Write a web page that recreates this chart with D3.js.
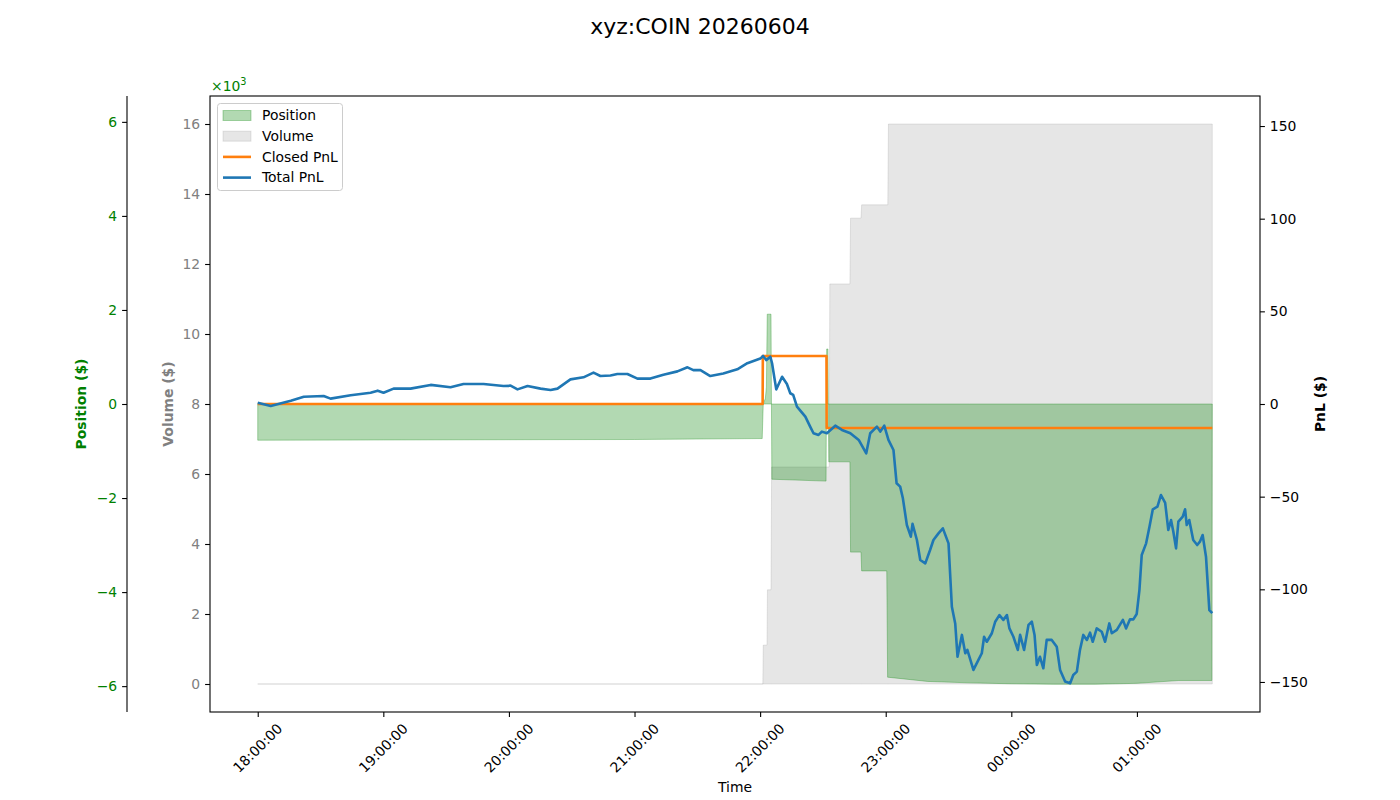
<!DOCTYPE html>
<html>
<head>
<meta charset="utf-8">
<script src="https://cdn.jsdelivr.net/npm/d3@7"></script>
<style>
html,body{margin:0;padding:0;background:#fff;}
svg{display:block;font-family:"DejaVu Sans",sans-serif;}
</style>
</head>
<body>
<svg id="chart" width="1400" height="800"></svg>
<script>
// ---------------- data (minutes after 18:00 on the session day) ----------------
const title = "xyz:COIN 20260604";
const tickHours = ["18:00:00","19:00:00","20:00:00","21:00:00","22:00:00","23:00:00","00:00:00","01:00:00"];

const posMinutes = [0,60,120,180,241.0,241.5,242.5,243.0,243.4,245.2,245.6,271.5,271.8,272.4,272.8,282.9,283.2,288.2,288.5,300.5,300.9,320,340,360,380,400,420,440,455.8,456];
const posValues  = [-770,-765,-760,-755,-735,0,120,360,1910,1910,-1600,-1640,1170,1170,-1230,-1230,-3150,-3150,-3550,-3550,-5810,-5900,-5930,-5950,-5960,-5960,-5940,-5880,-5880,0];

const volMinutes = [0,241.3,241.5,243.3,243.5,245.2,245.5,273.0,273.3,282.9,283.2,288.2,288.5,301.0,301.3,456];
const volValues  = [0,0,1110,1110,2690,2690,6200,6200,11430,11430,13310,13310,13690,13690,16000,16000];

const closedMinutes = [0,241.2,241.3,271.7,271.8,456];
const closedPnl     = [0,0,25.9,25.9,-12.95,-12.95];

const totalMinutes = [0,6.2,15.8,22.0,31.5,34.8,44.4,53.9,57.3,60.1,64.9,73.0,82.6,92.1,98.3,107.9,117.4,120.8,124.1,128.9,135.1,139.9,143.2,149.4,155.6,160.4,163.7,168.5,171.8,176.6,181.4,187.6,193.8,200.5,205.3,208.1,211.5,216.2,222.4,229.1,233.9,240.1,241.4,243.0,244.9,245.7,247.7,250.5,252.8,254.4,255.8,257.6,261.6,263.9,265.5,267.9,269.5,271.9,275.9,279.1,283.1,287.1,290.7,292.6,295.8,297.4,299.3,301.3,303.7,305.2,306.9,308.2,310.1,312.0,312.8,314.9,316.5,318.9,321.2,322.8,325.2,327.3,330.0,331.6,333.2,334.3,336.4,338.0,339.0,341.9,344.3,345.9,347.0,348.3,350.7,352.3,354.3,356.2,357.9,359.1,361.0,363.1,364.2,366.1,368.2,369.8,371.1,372.2,373.7,375.3,376.9,379.3,381.7,383.3,385.7,388.1,389.6,391.3,392.8,394.4,396.1,397.6,398.9,400.8,403.2,404.8,406.8,408.0,410.4,413.3,414.8,416.7,418.3,419.9,421.2,422.3,424.4,426.0,427.6,429.8,431.5,433.5,435.0,436.3,437.4,438.7,439.8,441.9,443.0,443.8,445.0,446.9,448.8,450.1,451.4,453.0,454.6,456.0];
const totalPnl = [0.7,-1.1,1.8,3.9,4.3,2.9,4.7,6.1,7.2,6.1,8.3,8.3,10.3,9.0,10.8,10.8,9.7,9.9,7.9,9.7,8.3,7.6,8.3,13.3,14.4,16.9,15.1,15.4,16.2,16.2,13.7,13.7,15.8,17.6,19.8,18.3,18.3,15.1,16.5,18.7,22.0,24.5,25.9,23.7,25.5,22.0,7.9,14.7,10.8,5.8,4.9,-1.4,-6.8,-12.2,-15.8,-16.7,-14.9,-15.8,-11.7,-14.0,-15.8,-19.4,-26.6,-15.8,-12.2,-14.9,-11.7,-19.4,-24.8,-42.8,-44.6,-50.9,-65.3,-71.6,-64.7,-73.4,-84.2,-86.0,-78.8,-73.4,-69.8,-67.1,-75.2,-109.4,-118.4,-136.4,-124.6,-134.5,-132.7,-143.5,-138.1,-134.5,-125.6,-128.3,-123.7,-117.5,-113.9,-116.5,-113.9,-121.1,-125.6,-132.7,-124.6,-132.7,-119.2,-117.5,-124.6,-140.8,-136.4,-142.6,-127.3,-127.3,-131.0,-143.5,-149.8,-150.7,-146.2,-144.4,-132.7,-124.6,-127.3,-123.4,-128.3,-121.1,-122.9,-128.3,-118.4,-123.7,-121.9,-116.5,-121.1,-116.2,-116.2,-113.3,-100.4,-81.5,-75.2,-66.2,-56.8,-55.4,-49.1,-53.3,-68.0,-62.6,-68.9,-77.9,-63.5,-60.8,-56.8,-65.3,-62.6,-73.4,-76.1,-74.3,-70.7,-82.4,-111.2,-112.9];

const posTicks = [-6000,-4000,-2000,0,2000,4000,6000];
const volTicks = [0,2000,4000,6000,8000,10000,12000,14000,16000];
const pnlTicks = [-150,-100,-50,0,50,100,150];

// ---------------- setup ----------------
const base = new Date(2026, 5, 3, 18, 0, 0);
const t = m => new Date(base.getTime() + m * 60000);

const L = 210, R = 1260, T = 96, B = 712;
const svg = d3.select("#chart");
const FS = 13.9;
const TL = 4.9, TP = 4.9;

const x = d3.scaleTime().domain([t(-22.8), t(478.8)]).range([L, R]);
const yPos = d3.scaleLinear().domain([-6550, 6550]).range([B, T]);
const yVol = d3.scaleLinear().domain([-800, 16800]).range([B, T]);
const yPnl = d3.scaleLinear().domain([-166.2, 166.2]).range([B, T]);

const posData = posMinutes.map((m, i) => ({t: t(m), v: posValues[i]}));
const volData = volMinutes.map((m, i) => ({t: t(m), v: volValues[i]}));
const closedData = closedMinutes.map((m, i) => ({t: t(m), v: closedPnl[i]}));
const totalData = totalMinutes.map((m, i) => ({t: t(m), v: totalPnl[i]}));

// clip
svg.append("clipPath").attr("id","clip").append("rect").attr("x",L).attr("y",T).attr("width",R-L).attr("height",B-T);
const plot = svg.append("g").attr("clip-path","url(#clip)");

// volume area
plot.append("path").datum(volData)
  .attr("d", d3.area().x(d => x(d.t)).y0(yVol(0)).y1(d => yVol(d.v)))
  .attr("fill","gray").attr("fill-opacity",0.2)
  .attr("stroke","gray").attr("stroke-opacity",0.2).attr("stroke-width",1);

// position area
plot.append("path").datum(posData)
  .attr("d", d3.area().x(d => x(d.t)).y0(yPos(0)).y1(d => yPos(d.v)))
  .attr("fill","green").attr("fill-opacity",0.3)
  .attr("stroke","green").attr("stroke-opacity",0.3).attr("stroke-width",1);

// PnL lines
const line = d3.line().x(d => x(d.t)).y(d => yPnl(d.v));
plot.append("path").datum(closedData).attr("d", line)
  .attr("fill","none").attr("stroke","#ff7f0e").attr("stroke-width",2.6).attr("stroke-linejoin","round");
plot.append("path").datum(totalData).attr("d", line)
  .attr("fill","none").attr("stroke","#1f77b4").attr("stroke-width",2.6).attr("stroke-linejoin","round");

// frame
svg.append("rect").attr("x",L).attr("y",T).attr("width",R-L).attr("height",B-T)
  .attr("fill","none").attr("stroke","#000").attr("stroke-width",1.1);

// ---------------- axes ----------------
function styleAxis(g, color) {
  g.selectAll("text").attr("font-size", FS).attr("fill", color).attr("font-family","DejaVu Sans");
  g.selectAll(".tick line").attr("stroke","#000").attr("stroke-width",1.1);
}

// x axis
const xTicks = tickHours.map((s, i) => t(i * 60));
const gx = svg.append("g").attr("transform", `translate(0,${B})`)
  .call(d3.axisBottom(x).tickValues(xTicks).tickSize(TL).tickFormat(() => ""));
gx.select(".domain").remove();
gx.selectAll(".tick line").attr("stroke","#000").attr("stroke-width",1.1);
xTicks.forEach((d, i) => {
  const px = x(d), py = 748;
  svg.append("text").attr("x", px).attr("y", py)
    .attr("text-anchor","middle").attr("dy","0.35em")
    .attr("transform", `rotate(-45,${px},${py})`)
    .attr("font-size", FS).attr("fill","#000").text(tickHours[i]);
});
svg.append("text").attr("x",(L+R)/2).attr("y",792).attr("text-anchor","middle")
  .attr("font-size",FS).text("Time");

// volume axis (left, on frame)
const gv = svg.append("g").attr("transform",`translate(${L},0)`)
  .call(d3.axisLeft(yVol).tickValues(volTicks).tickSize(TL).tickPadding(TP).tickFormat(d => d3.format("d")(d/1000)));
gv.select(".domain").remove();
styleAxis(gv, "gray");
svg.append("text").attr("transform",`translate(173,404) rotate(-90)`).attr("text-anchor","middle")
  .attr("font-size",FS).attr("font-weight","bold").attr("fill","gray").text("Volume ($)");

// position axis (left, offset)
const PX = 127;
const gp = svg.append("g").attr("transform",`translate(${PX},0)`)
  .call(d3.axisLeft(yPos).tickValues(posTicks).tickSize(TL).tickPadding(TP).tickFormat(d => d3.format("d")(d/1000)));
gp.select(".domain").attr("d", `M0,${T}V${B}`).attr("stroke","#000").attr("stroke-width",1.1);
styleAxis(gp, "green");
svg.append("text").attr("transform",`translate(86,404) rotate(-90)`).attr("text-anchor","middle")
  .attr("font-size",FS).attr("font-weight","bold").attr("fill","green").text("Position ($)");

// offset text ×10³
const off = svg.append("text").attr("x",211).attr("y",91).attr("font-size",FS).attr("fill","green");
off.append("tspan").text("×10");
off.append("tspan").attr("dy",-6).attr("font-size",FS*0.7).text("3");

// pnl axis (right)
const gr = svg.append("g").attr("transform",`translate(${R},0)`)
  .call(d3.axisRight(yPnl).tickValues(pnlTicks).tickSize(TL).tickPadding(TP).tickFormat(d3.format("d")));
gr.select(".domain").remove();
styleAxis(gr, "#000");
svg.append("text").attr("transform",`translate(1325,404) rotate(-90)`).attr("text-anchor","middle")
  .attr("font-size",FS).attr("font-weight","bold").attr("fill","#000").text("PnL ($)");

// title
svg.append("text").attr("x",700).attr("y",34).attr("text-anchor","middle")
  .attr("font-size",22).attr("fill","#000").text(title);

// ---------------- legend ----------------
const lg = svg.append("g");
lg.append("rect").attr("x",217.5).attr("y",103.5).attr("width",125).attr("height",87).attr("rx",3)
  .attr("fill","#fff").attr("fill-opacity",0.8).attr("stroke","#cccccc").attr("stroke-width",1);
const items = [
  {label:"Position", type:"patch", fill:"green", op:0.3},
  {label:"Volume", type:"patch", fill:"gray", op:0.2},
  {label:"Closed PnL", type:"line", color:"#ff7f0e"},
  {label:"Total PnL", type:"line", color:"#1f77b4"}
];
items.forEach((it, i) => {
  const cy = 115.5 + i * 20.7;
  if (it.type === "patch") {
    lg.append("rect").attr("x",223).attr("y",cy-5).attr("width",28).attr("height",10)
      .attr("fill",it.fill).attr("fill-opacity",it.op).attr("stroke",it.fill).attr("stroke-opacity",it.op);
  } else {
    lg.append("line").attr("x1",223).attr("x2",251).attr("y1",cy).attr("y2",cy)
      .attr("stroke",it.color).attr("stroke-width",2.6);
  }
  lg.append("text").attr("x",262).attr("y",cy).attr("dy","0.35em").attr("font-size",FS).text(it.label);
});
</script>
</body>
</html>
